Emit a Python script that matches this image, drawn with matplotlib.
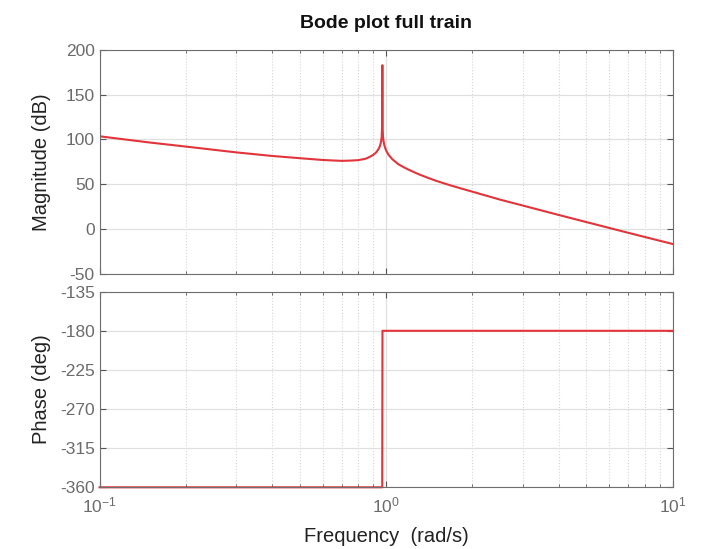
import matplotlib
matplotlib.use('Agg')
import matplotlib.pyplot as plt
from matplotlib.ticker import LogLocator, NullFormatter

# magnitude curve (rad/s, dB)
mag_freq = [0.1, 0.15, 0.2, 0.3, 0.4, 0.5, 0.6, 0.7, 0.75, 0.8, 0.85, 0.88, 0.9, 0.92,
            0.93, 0.94, 0.95, 0.955, 0.96, 0.965, 0.968, 0.97, 0.972, 0.975, 0.98,
            0.985, 0.99, 1.0, 1.02, 1.05, 1.1, 1.15, 1.2, 1.3, 1.4, 1.5, 1.7, 2.0,
            2.5, 3.0, 4.0, 5.0, 7.0, 10.0]
mag_db = [103.5, 96.5, 92.0, 85.5, 81.5, 79.0, 77.0, 76.0, 76.3, 76.8, 78.5, 80.8, 82.5, 85.0,
          87.0, 89.0, 92.0, 94.6, 97.5, 103.0, 115.0, 183.0, 115.0, 103.0, 97.5,
          94.0, 91.5, 87.5, 82.7, 78.0, 72.5, 69.0, 66.0, 61.0, 57.0, 53.5, 48.0, 41.5,
          32.6, 26.0, 15.5, 7.5, -4.5, -17.0]

# phase curve (rad/s, deg)
phase_freq = [0.1, 0.969, 0.971, 10.0]
phase_deg = [-360, -360, -180, -180]

mag_ticks = [-50, 0, 50, 100, 150, 200]
phase_ticks = [-360, -315, -270, -225, -180, -135]

plt.rcParams['font.family'] = ['Liberation Sans', 'DejaVu Sans']
plt.rcParams['mathtext.fontset'] = 'custom'
plt.rcParams['mathtext.rm'] = 'Liberation Sans'
plt.rcParams['mathtext.it'] = 'Liberation Sans:italic'
plt.rcParams['mathtext.bf'] = 'Liberation Sans:bold'
plt.rcParams['axes.unicode_minus'] = False

red = '#e2343b'
tick_col = '#6b6b6b'
fig = plt.figure(figsize=(7.2, 5.49), dpi=100)
ax1 = fig.add_axes([0.1382, 0.5018, 0.7962, 0.4071])
ax2 = fig.add_axes([0.1382, 0.1124, 0.7962, 0.3563])

ax1.plot(mag_freq, mag_db, color=red, lw=1.5)
ax2.plot(phase_freq, phase_deg, color=red, lw=1.5, clip_on=False)

for ax, ticks in ((ax1, mag_ticks), (ax2, phase_ticks)):
    ax.set_xscale('log')
    ax.set_xlim(0.1, 10)
    ax.set_yticks(ticks)
    ax.set_ylim(ticks[0], ticks[-1])
    ax.xaxis.set_major_locator(LogLocator(base=10))
    ax.xaxis.set_minor_locator(LogLocator(base=10, subs=range(2, 10)))
    ax.xaxis.set_minor_formatter(NullFormatter())
    ax.grid(True, which='major', color='#e0e0e0', lw=0.9, ls='-')
    ax.grid(True, which='minor', axis='x', color='#d6d6d6', lw=0.8, ls=':')
    ax.set_axisbelow(True)
    ax.tick_params(which='both', direction='in', top=True, right=True,
                   color='#555555', labelcolor=tick_col, labelsize=12.5)
    ax.tick_params(which='major', length=4)
    ax.tick_params(which='minor', length=2.5)
    for sp in ax.spines.values():
        sp.set_color('#6e6e6e')
        sp.set_linewidth(0.8)

ax1.tick_params(axis='x', labelbottom=False)
ax2.tick_params(axis='x', pad=6)

fig.text(0.536, 0.958, 'Bode plot full train', ha='center', va='center',
         fontsize=14, fontweight='bold', color='#111111')
fig.text(0.058, 0.7054, 'Magnitude (dB)', rotation=90, ha='center', va='center',
         fontsize=14.5, color='#222222')
fig.text(0.058, 0.2905, 'Phase (deg)', rotation=90, ha='center', va='center',
         fontsize=14.5, color='#222222')
fig.text(0.536, 0.022, 'Frequency  (rad/s)', ha='center', va='center',
         fontsize=14.5, color='#222222')

fig.savefig('out.png', dpi=100)
